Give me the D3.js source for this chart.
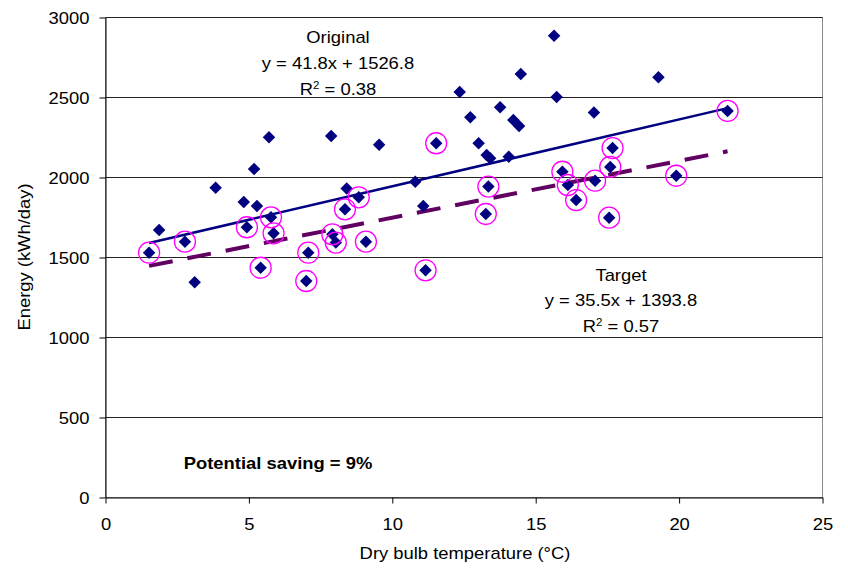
<!DOCTYPE html>
<html>
<head>
<meta charset="utf-8">
<script src="https://cdn.jsdelivr.net/npm/d3@7"></script>
<style>
  html, body { margin: 0; padding: 0; background: #fff; }
  svg { display: block; font-family: "Liberation Sans", Arial, sans-serif; }
</style>
</head>
<body>
<svg id="chart" width="848" height="568"></svg>
<script>
// Daily energy use against dry bulb temperature
const temperature = [1.52, 1.87, 2.77, 3.11, 3.84, 4.82, 4.93, 5.18, 5.28, 5.41,
  5.70, 5.77, 5.86, 7.00, 7.07, 7.87, 7.91, 8.03, 8.35, 8.41,
  8.83, 9.08, 9.54, 10.80, 11.08, 11.16, 11.53, 12.35, 12.72, 13.01,
  13.29, 13.41, 13.26, 13.35, 13.76, 14.06, 14.22, 14.42, 14.48, 15.64,
  15.73, 15.93, 16.12, 16.41, 17.03, 17.07, 17.56, 17.60, 17.68, 19.28,
  19.90, 21.69];
const energy = [1530, 1672, 1599, 1345, 1936, 1847, 1689, 2053, 1822, 1436,
  2251, 1751, 1651, 1353, 1530, 2259, 1645, 1593, 1801, 1932,
  1876, 1599, 2205, 1974, 1822, 1420, 2214, 2534, 2376, 2214,
  2141, 2120, 1772, 1943, 2439, 2130, 2359, 2322, 2647, 2886,
  2503, 2036, 1953, 1859, 2407, 1980, 1749, 2066, 2184, 2626,
  2011, 2416];
// 1 = day included in the target (best-practice) set
const inTarget = [1, 0, 1, 0, 0, 0, 1, 0, 0, 1,
  0, 1, 1, 1, 1, 0, 1, 1, 1, 0,
  1, 1, 0, 0, 0, 1, 1, 0, 0, 0,
  0, 0, 1, 1, 0, 0, 0, 0, 0, 0,
  0, 1, 1, 1, 0, 1, 1, 1, 1, 0,
  1, 1];

// Regression lines: slope, intercept, R²
const originalFit = [41.8, 1526.8, 0.38];
const targetFit = [35.5, 1393.8, 0.57];

const xTicks = [0, 5, 10, 15, 20, 25];
const yTicks = [0, 500, 1000, 1500, 2000, 2500, 3000];
const savingText = "Potential saving = 9%";

const points = temperature.map((t, i) => ({ t, e: energy[i], target: inTarget[i] === 1 }));

const svg = d3.select("#chart");
const SX = 1.15;           // horizontal text stretch
const FS = 16;

const x = d3.scaleLinear().domain([0, 25]).range([105.5, 822.5]);
const y = d3.scaleLinear().domain([0, 3000]).range([497.5, 17.5]);

svg.append("rect").attr("width", 848).attr("height", 568).attr("fill", "#fff");

// plot area border
svg.append("rect")
  .attr("x", x(0)).attr("y", y(3000))
  .attr("width", x(25) - x(0)).attr("height", y(0) - y(3000))
  .attr("fill", "none").attr("stroke", "#888").attr("stroke-width", 1);

// horizontal gridlines
svg.append("g").selectAll("line")
  .data(yTicks.filter(v => v > 0))
  .join("line")
  .attr("x1", x(0)).attr("x2", x(25))
  .attr("y1", d => y(d)).attr("y2", d => y(d))
  .attr("stroke", "#222").attr("stroke-width", 1);

// axes
const yAxis = svg.append("g")
  .attr("transform", `translate(${x(0)},0)`)
  .call(d3.axisLeft(y).tickValues(yTicks).tickSize(6).tickSizeOuter(0).tickFormat(d3.format("d")));
const xAxis = svg.append("g")
  .attr("transform", `translate(0,${y(0)})`)
  .call(d3.axisBottom(x).tickValues(xTicks).tickSize(6).tickSizeOuter(0).tickFormat(d3.format("d")));

[yAxis, xAxis].forEach(g => {
  g.select(".domain").attr("stroke", "#000").attr("stroke-width", 1);
  g.selectAll(".tick line").attr("stroke", "#000");
  g.selectAll(".tick text")
    .attr("fill", "#000")
    .attr("font-size", FS)
    .attr("font-family", "Liberation Sans, Arial, sans-serif");
});
yAxis.selectAll(".tick text")
  .attr("x", null).attr("dy", "0.35em")
  .attr("text-anchor", "end")
  .attr("transform", `translate(-16,0) scale(${SX},1)`);
xAxis.selectAll(".tick text")
  .attr("y", null).attr("dy", null)
  .attr("text-anchor", "middle")
  .attr("transform", `translate(0,32) scale(${SX},1)`);

function label(px, py, text, opts = {}) {
  const t = svg.append("text")
    .attr("transform", `translate(${px},${py})${opts.rotate ? " rotate(-90)" : ""} scale(${SX},1)`)
    .attr("text-anchor", "middle")
    .attr("font-size", FS)
    .attr("font-weight", opts.bold ? "bold" : "normal")
    .attr("fill", "#000");
  if (text !== null) t.text(text);
  return t;
}

function rSquared(px, py, r2) {
  const t = label(px, py, null);
  t.append("tspan").text("R");
  t.append("tspan").attr("font-size", 10).attr("dy", -6).text("2");
  t.append("tspan").attr("dy", 6).text(" = " + r2.toFixed(2));
}

// axis titles
label(465, 559, "Dry bulb temperature (°C)");
label(30, 257, "Energy (kWh/day)", { rotate: true });

// trend lines across the data range
const tMin = d3.min(temperature), tMax = d3.max(temperature);
const tgtTemps = temperature.filter((t, i) => inTarget[i] === 1);

svg.append("line")
  .attr("x1", x(tMin)).attr("y1", y(originalFit[0] * tMin + originalFit[1]))
  .attr("x2", x(tMax)).attr("y2", y(originalFit[0] * tMax + originalFit[1]))
  .attr("stroke", "#000080").attr("stroke-width", 2.5);

const t0 = d3.min(tgtTemps), t1 = d3.max(tgtTemps);
svg.append("line")
  .attr("x1", x(t0)).attr("y1", y(targetFit[0] * t0 + targetFit[1]))
  .attr("x2", x(t1)).attr("y2", y(targetFit[0] * t1 + targetFit[1]))
  .attr("stroke", "#600060").attr("stroke-width", 4)
  .attr("stroke-dasharray", "24,15");

// data markers
const diamond = d3.symbol().type(d3.symbolSquare).size(78);
svg.append("g").selectAll("path")
  .data(points)
  .join("path")
  .attr("d", diamond)
  .attr("transform", d => `translate(${x(d.t)},${y(d.e)}) rotate(45)`)
  .attr("fill", "#000080");

// rings around target days
svg.append("g").selectAll("circle")
  .data(points.filter(d => d.target))
  .join("circle")
  .attr("cx", d => x(d.t)).attr("cy", d => y(d.e))
  .attr("r", 10.5)
  .attr("fill", "none").attr("stroke", "#ff00ff").attr("stroke-width", 1.3);

// equation annotations
label(338, 43, "Original");
label(338, 69, `y = ${originalFit[0]}x + ${originalFit[1]}`);
rSquared(338, 95, originalFit[2]);

label(621, 281, "Target");
label(621, 306, `y = ${targetFit[0]}x + ${targetFit[1]}`);
rSquared(621, 332, targetFit[2]);

label(278, 469, savingText, { bold: true });
</script>
</body>
</html>
